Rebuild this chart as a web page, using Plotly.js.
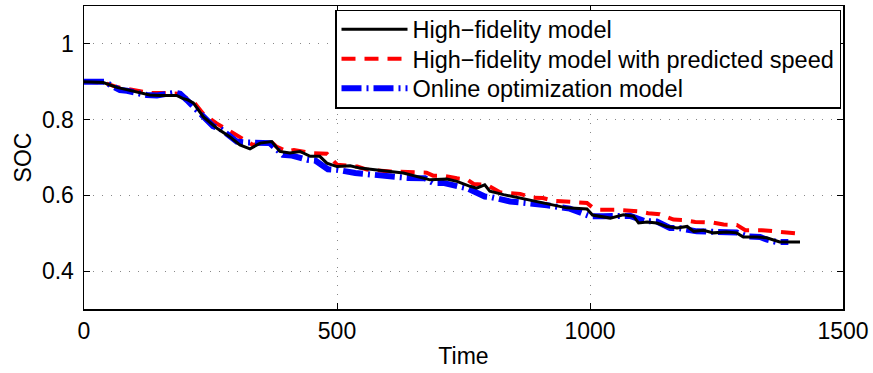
<!DOCTYPE html>
<html>
<head>
<meta charset="utf-8">
<script src="https://cdn.plot.ly/plotly-3.0.1.min.js"></script>
<style>
  html, body { margin: 0; padding: 0; background: #fff; }
  #chart { width: 873px; height: 373px; }
</style>
</head>
<body>
<div id="chart"></div>
<script>
// State of charge over time for three models
const hifiTime = [0, 38, 65, 100, 130, 150, 183, 195, 205, 216, 236, 262, 288, 308, 328, 348, 371, 387, 407, 427, 447, 466, 480, 500, 526, 545, 579, 605, 631, 658, 684, 717, 737, 763, 776, 792, 802, 829, 862, 895, 927, 954, 994, 1005, 1040, 1066, 1086, 1096, 1113, 1132, 1152, 1172, 1192, 1205, 1224, 1244, 1270, 1290, 1303, 1330, 1349, 1362, 1375, 1415];
const hifiSoc = [0.900, 0.898, 0.885, 0.874, 0.865, 0.864, 0.864, 0.856, 0.852, 0.844, 0.807, 0.778, 0.755, 0.733, 0.723, 0.738, 0.742, 0.716, 0.712, 0.716, 0.703, 0.703, 0.685, 0.676, 0.678, 0.672, 0.668, 0.663, 0.659, 0.650, 0.641, 0.643, 0.637, 0.624, 0.619, 0.628, 0.611, 0.602, 0.593, 0.584, 0.576, 0.567, 0.564, 0.548, 0.540, 0.549, 0.545, 0.527, 0.530, 0.527, 0.518, 0.514, 0.518, 0.505, 0.508, 0.501, 0.503, 0.501, 0.490, 0.490, 0.488, 0.483, 0.477, 0.477];

const predTime = [0, 38, 65, 100, 130, 160, 190, 203, 216, 236, 262, 288, 322, 334, 350, 367, 380, 401, 415, 447, 480, 490, 500, 540, 559, 605, 645, 677, 690, 710, 737, 757, 770, 786, 796, 822, 862, 887, 907, 927, 960, 994, 1005, 1020, 1053, 1080, 1096, 1115, 1138, 1165, 1185, 1208, 1244, 1264, 1290, 1307, 1340, 1366, 1382, 1405, 1415];
const predSoc = [0.900, 0.898, 0.886, 0.877, 0.870, 0.870, 0.868, 0.856, 0.848, 0.815, 0.790, 0.770, 0.744, 0.733, 0.738, 0.745, 0.729, 0.716, 0.720, 0.712, 0.710, 0.695, 0.681, 0.676, 0.668, 0.663, 0.660, 0.660, 0.652, 0.652, 0.645, 0.642, 0.630, 0.630, 0.628, 0.608, 0.604, 0.594, 0.593, 0.586, 0.584, 0.580, 0.568, 0.562, 0.562, 0.560, 0.558, 0.553, 0.550, 0.536, 0.535, 0.530, 0.528, 0.523, 0.522, 0.508, 0.508, 0.505, 0.503, 0.499, 0.499];

const onlineTime = [0, 40, 71, 85, 124, 144, 180, 190, 203, 216, 225, 255, 269, 302, 318, 348, 367, 393, 411, 441, 457, 482, 502, 536, 549, 585, 599, 640, 674, 690, 710, 743, 759, 792, 806, 842, 862, 895, 915, 960, 1000, 1026, 1059, 1079, 1109, 1132, 1158, 1178, 1211, 1231, 1264, 1290, 1310, 1336, 1350, 1369, 1392];
const onlineSoc = [0.900, 0.900, 0.878, 0.876, 0.865, 0.864, 0.871, 0.868, 0.852, 0.835, 0.822, 0.783, 0.776, 0.742, 0.740, 0.738, 0.738, 0.707, 0.705, 0.694, 0.692, 0.669, 0.667, 0.659, 0.657, 0.654, 0.652, 0.646, 0.645, 0.633, 0.633, 0.622, 0.618, 0.597, 0.595, 0.584, 0.582, 0.576, 0.574, 0.565, 0.545, 0.545, 0.547, 0.546, 0.532, 0.531, 0.514, 0.513, 0.505, 0.504, 0.503, 0.502, 0.492, 0.490, 0.483, 0.477, 0.477];

const xTicks = [0, 500, 1000, 1500];
const yTicks = [0.4, 0.6, 0.8, 1];
const yTickText = ['0.4', '0.6', '0.8', '1'];

const FONT = 'Liberation Sans, Arial, Helvetica, sans-serif';

const traces = [
  {
    x: predTime, y: predSoc, type: 'scatter', mode: 'lines',
    name: 'High−fidelity model with predicted speed', legendrank: 2,
    line: { color: '#ff0000', width: 4, dash: '14px,9px' }
  },
  {
    x: onlineTime, y: onlineSoc, type: 'scatter', mode: 'lines',
    name: 'Online optimization model', legendrank: 3,
    line: { color: '#0000ff', width: 6, dash: '20px,5px,2px,5px' }
  },
  {
    x: hifiTime, y: hifiSoc, type: 'scatter', mode: 'lines',
    name: 'High−fidelity model', legendrank: 1,
    line: { color: '#000000', width: 3 }
  }
];

const axisCommon = {
  showline: true, linecolor: '#000', linewidth: 1.5, mirror: 'ticks',
  ticks: 'inside', ticklen: 6, tickcolor: '#000', tickwidth: 1,
  showgrid: true, gridcolor: '#888', gridwidth: 1, griddash: '1px,8px',
  zeroline: false,
  tickfont: { family: FONT, size: 23, color: '#000' }
};

const layout = {
  width: 873, height: 373,
  margin: { l: 84, r: 30, t: 6, b: 64 },
  paper_bgcolor: '#fff', plot_bgcolor: '#fff',
  font: { family: FONT, color: '#000' },
  xaxis: Object.assign({}, axisCommon, {
    range: [0, 1500], tickvals: xTicks, ticklabelstandoff: 1,
    title: { text: 'Time', standoff: 5, font: { family: FONT, size: 23, color: '#000' } }
  }),
  yaxis: Object.assign({}, axisCommon, {
    range: [0.3, 1.1], tickvals: yTicks, ticktext: yTickText, ticklabelstandoff: 4,
    title: { text: 'SOC', standoff: 4, font: { family: FONT, size: 23, color: '#000' } }
  }),
  legend: {
    x: 0.3307, y: 0.987, xanchor: 'left', yanchor: 'top',
    bgcolor: '#fff', bordercolor: '#000', borderwidth: 1.5,
    font: { family: FONT, size: 23.5, color: '#000' },
    itemwidth: 66, tracegroupgap: 0
  },
  showlegend: true
};

// Tighten the legend row pitch and shrink its box to fit
function tightenLegend(gd) {
  const legend = gd.querySelector('.legend');
  if (!legend) return;
  const items = legend.querySelectorAll('.traces');
  const pitch = 29.5;
  const lift = 4;
  let firstY = null;
  items.forEach((g, i) => {
    const m = /translate\(\s*([-\d.]+)[ ,]+([-\d.]+)\s*\)/.exec(g.getAttribute('transform') || '');
    if (!m) return;
    const tx = parseFloat(m[1]);
    const ty = parseFloat(m[2]);
    if (firstY === null) firstY = ty;
    g.setAttribute('transform', 'translate(' + tx + ',' + (firstY - lift + i * pitch) + ')');
  });
  const bg = legend.querySelector('rect.bg');
  if (bg && firstY !== null) {
    const h = firstY - lift + (items.length - 1) * pitch + 19;
    bg.setAttribute('height', h);
  }
}

Plotly.newPlot('chart', traces, layout, { displayModeBar: false, staticPlot: true })
  .then(gd => tightenLegend(gd));
</script>
</body>
</html>
